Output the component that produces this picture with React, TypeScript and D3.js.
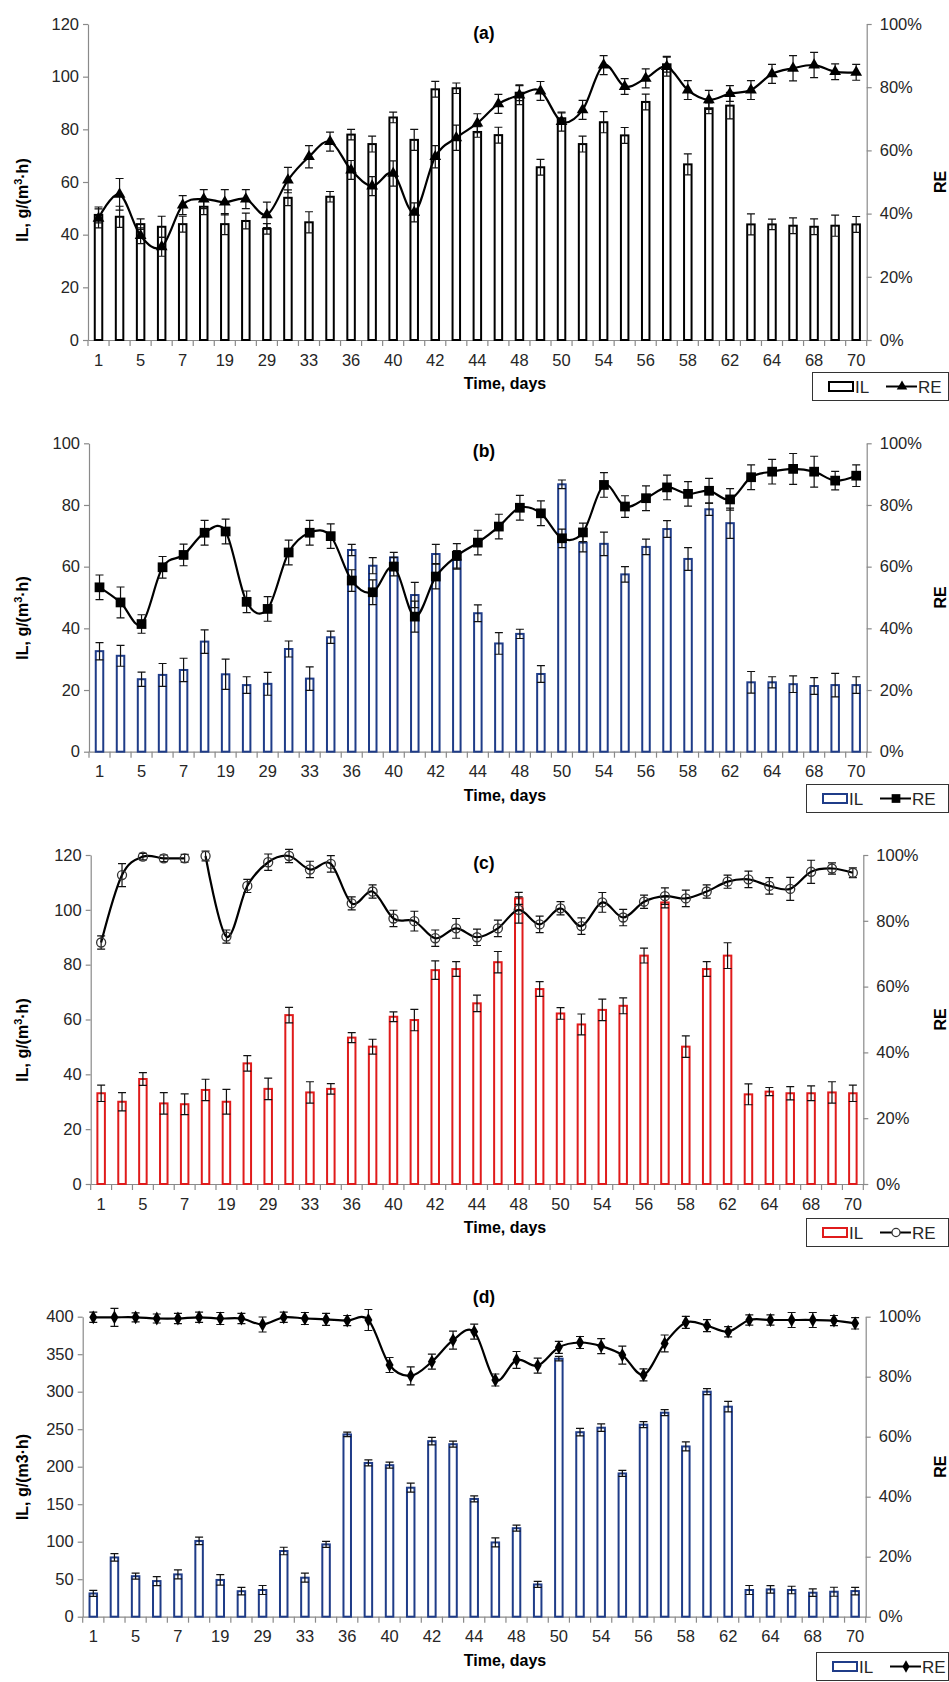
import React, { useRef, useEffect } from 'react';
import * as d3 from 'd3';

// category labels (only every other one is printed on the axis)
const days = ['1', '3', '5', '6', '7', '15', '19', '25', '29', '31', '33', '35', '36', '38', '40', '41', '42', '43', '44',
  '46', '48', '49', '50', '52', '54', '55', '56', '57', '58', '60', '62', '63', '64', '66', '68', '69', '70'];

// (a)
const ilA = [47.5, 46.8, 44, 43, 44, 50.6, 44, 45.2, 42.2, 54, 44.7, 54.4, 78, 74.4, 84.5, 76, 95.2, 95.6, 79, 77.8, 93.9, 65.6, 84.2, 74.4, 82.7, 77.7, 90.4, 104.7, 66.7, 88, 89, 43.9, 43.9, 43.4, 43, 43.4, 43.9];
const ilErrA = [3, 4, 2, 4, 3, 3, 4, 3, 2, 3, 4, 2, 2, 3, 2, 4, 3, 2, 2, 3, 3, 3, 2, 3, 4, 3, 3, 3, 4, 2, 5, 4, 2, 3, 3, 4, 3];
const reA = [38.5, 46.1, 33, 29.5, 42.7, 44.6, 43.6, 44.6, 39.6, 50.6, 58, 62.8, 53.8, 48.7, 52.7, 40.4, 58, 64, 68.6, 74.7, 77.5, 78.8, 69.1, 72.8, 87, 80.2, 82.8, 86.5, 79.1, 76, 78, 79.1, 84.2, 86, 87, 84.9, 84.7];
const reErrA = [3, 5, 2.5, 3, 3, 3, 4, 3, 4, 4, 3.5, 3, 3, 3, 4, 3, 3.5, 4, 3, 3, 3, 3, 3, 3, 3, 2.5, 3, 3, 3, 3, 2.5, 3, 3, 4, 4, 2.5, 2.5];

// (b)
const ilB = [32.6, 31.1, 23.5, 24.9, 26.5, 35.7, 25.1, 21.6, 22, 33.3, 23.7, 37.1, 65.4, 60.3, 63, 50.8, 64.1, 62.2, 44.9, 35.1, 38.2, 25.2, 86.7, 67.8, 67.4, 57.5, 66.4, 72.2, 62.5, 78.6, 74.1, 22.5, 22.5, 21.9, 21.3, 21.6, 21.6];
const ilErrB = [2.8, 3.4, 2.3, 3.7, 3.8, 3.8, 4.9, 2.7, 3.7, 2.6, 3.8, 2, 1.8, 2.6, 1.6, 4.1, 3.1, 3, 2.7, 3.5, 1.5, 2.7, 1.4, 3, 3.8, 2.5, 2.5, 2.7, 3.7, 2, 4.9, 3.5, 1.8, 2.7, 2.7, 3.8, 2.7];
const reB = [53.3, 48.4, 41.4, 59.8, 63.8, 71, 71.4, 48.6, 46.3, 64.6, 71, 69.9, 55.5, 51.7, 60, 43.8, 56.8, 63.5, 67.8, 73, 79.1, 77.3, 69.2, 71.1, 86.5, 79.5, 82.2, 85.7, 83.6, 84.6, 81.8, 89, 90.8, 91.7, 90.8, 87.9, 89.5];
const reErrB = [4, 5, 3, 3.5, 3.5, 4, 4, 3.5, 4, 4, 4, 4, 3.5, 4, 3, 5, 4, 4, 4, 4, 4, 4, 3, 3, 4, 3.5, 4, 4, 4, 4, 3.5, 4, 4, 5, 5, 3, 3.5];

// (c)
const ilC = [33.1, 30, 38.3, 29.4, 29.1, 34.3, 30, 44, 34.7, 61.6, 33.4, 34.7, 53.4, 50.1, 61, 59.8, 78, 78.4, 65.9, 80.9, 104.2, 71.1, 62.2, 58.2, 63.5, 65, 83.3, 102.7, 50.1, 78.4, 83.3, 32.7, 33.7, 33.1, 33.1, 33.4, 33.1];
const ilErrC = [3, 3.3, 2.3, 3.9, 3.8, 3.9, 4.5, 2.8, 3.9, 2.8, 3.9, 1.9, 1.8, 2.7, 1.8, 3.9, 3.4, 2.7, 3, 3.9, 2.2, 2.7, 2.1, 3.8, 3.9, 2.9, 2.7, 2, 3.9, 2.7, 4.7, 3.8, 1.5, 2.4, 2.7, 3.9, 3];
const reC = [73.4, 93.9, 99.5, 99, 99, 99.7, 75.2, 90.6, 97.8, 99.7, 95.6, 97.3, 85.3, 88.9, 80.7, 79.9, 74.7, 77.7, 75, 77.7, 83.3, 78.9, 83.8, 78.4, 85.6, 81, 85.8, 87.5, 86.8, 88.9, 91.9, 92.6, 90.6, 89.7, 94.9, 95.9, 94.6];
const reErrC = [2, 3.5, 1, 1, 1.2, 1.5, 2, 2, 2.5, 2, 2.5, 2.5, 2, 2, 2.5, 3, 2.5, 3, 2.5, 2.5, 4, 2.5, 2, 2.5, 3, 2.5, 2, 2.5, 2.5, 2, 2, 2.5, 2.5, 3.5, 3.5, 1.7, 1.5];

// (d)
const ilD = [31, 79, 54, 47.5, 56.4, 101, 49, 34, 35.6, 87.6, 52, 96.4, 243, 205, 202, 172, 234, 230, 157, 99, 118, 43, 344, 246, 252, 191, 256, 272, 227, 300, 280, 35.6, 36.4, 35.6, 32, 33.3, 34.2];
const ilErrD = [4, 5, 4, 6, 6, 5, 7, 5, 6, 5, 6, 4, 3, 4, 4, 6, 5, 4, 4, 6, 4, 4, 3, 5, 5, 4, 4, 4, 6, 4, 7, 6, 5, 5, 5, 6, 5];
const reD = [99.8, 99.8, 99.8, 99.4, 99.4, 99.8, 99.4, 99.4, 97.4, 99.8, 99.4, 99.1, 98.7, 98.9, 83.9, 80.3, 85, 92.2, 95, 78.9, 85.6, 83.7, 89.8, 91.4, 90.2, 87.2, 80.6, 91.1, 98.1, 97, 95, 98.9, 98.9, 98.9, 98.9, 98.7, 97.8];
const reErrD = [1.7, 3, 1.5, 1.5, 1.7, 1.7, 2, 1.7, 2.5, 1.7, 2, 2, 1.7, 3.5, 2.5, 3, 2.5, 3, 2.5, 2, 2.8, 2.5, 2, 2, 2.5, 3, 2, 2.8, 2, 2, 1.7, 1.7, 1.7, 2.5, 2.5, 1.7, 1.9];

const reTicks = [0, 20, 40, 60, 80, 100];

const FONT = "'Liberation Sans', Arial, sans-serif";
const AXIS = '#8a8a8a';
const TXT = '#262626';

const panels = [
  { name: '(a)', il: ilA, ilErr: ilErrA, re: reA, reErr: reErrA, ilMax: 120, ilStep: 20, bar: '#000000', marker: d3.symbolTriangle, msize: 60, hollow: false, sup: true, breakAt: -1,
    left: 88, right: 866.7, top: 24, bottom: 340, titleY: 33, yTitleY: 200, legX: 812, legY: 372 },
  { name: '(b)', il: ilB, ilErr: ilErrB, re: reB, reErr: reErrB, ilMax: 100, ilStep: 20, bar: '#1f3c88', marker: d3.symbolSquare, msize: 95, hollow: false, sup: true, breakAt: -1,
    left: 89, right: 866.7, top: 443.3, bottom: 751.7, titleY: 451, yTitleY: 618, legX: 806, legY: 784 },
  { name: '(c)', il: ilC, ilErr: ilErrC, re: reC, reErr: reErrC, ilMax: 120, ilStep: 20, bar: '#e01b1b', marker: d3.symbolCircle, msize: 64, hollow: true, sup: true, breakAt: 4,
    left: 90.7, right: 863.3, top: 855, bottom: 1184, titleY: 863, yTitleY: 1040, legX: 806, legY: 1218 },
  { name: '(d)', il: ilD, ilErr: ilErrD, re: reD, reErr: reErrD, ilMax: 400, ilStep: 50, bar: '#1f3c88', marker: d3.symbolDiamond, msize: 55, hollow: false, sup: false, breakAt: -1,
    left: 82.7, right: 865.7, top: 1316.7, bottom: 1616.7, titleY: 1297, yTitleY: 1477, legX: 816, legY: 1652 },
];

const App = () => {
  const svgRef = useRef<SVGSVGElement>(null);

  useEffect(() => {
    const svg = d3.select(svgRef.current);
    svg.selectAll('*').remove();
    svg.append('rect').attr('width', 949).attr('height', 1682).attr('fill', '#fff');

    panels.forEach(p => {
      const g = svg.append('g').attr('font-family', FONT);
      const x = d3.scaleBand().domain(days).range([p.left, p.right]).padding(0);
      const y = d3.scaleLinear().domain([0, p.ilMax]).range([p.bottom, p.top]);
      const yR = d3.scaleLinear().domain([0, 100]).range([p.bottom, p.top]);
      const cx = (d: string) => (x(d) as number) + x.bandwidth() / 2;

      // left axis
      const la = g.append('g').attr('transform', `translate(${p.left},0)`)
        .call(d3.axisLeft(y).tickValues(d3.range(0, p.ilMax + 1, p.ilStep)).tickSize(5).tickSizeOuter(0).tickPadding(4));
      // right axis
      const ra = g.append('g').attr('transform', `translate(${p.right},0)`)
        .call(d3.axisRight(yR).tickValues(reTicks).tickFormat(d => `${d}%`).tickSize(5).tickSizeOuter(0).tickPadding(8));
      // bottom axis, labels only on every other category
      const ba = g.append('g').attr('transform', `translate(0,${p.bottom})`)
        .call(d3.axisBottom(x).tickSize(0).tickSizeOuter(0).tickPadding(14)
          .tickFormat((d, i) => (i % 2 === 0 ? d : '')));
      [la, ra, ba].forEach(a => {
        a.select('.domain').attr('stroke', AXIS).attr('stroke-width', 1.2);
        a.selectAll('.tick line').attr('stroke', AXIS).attr('stroke-width', 1.2);
        a.selectAll('.tick text').attr('fill', TXT).attr('font-size', 16.5).attr('font-family', FONT);
      });
      // category boundary ticks
      const bounds = days.map(d => x(d) as number).concat([p.right]);
      ba.selectAll('line.bt').data(bounds).enter().append('line')
        .attr('x1', d => d).attr('x2', d => d).attr('y1', 0).attr('y2', 6)
        .attr('stroke', AXIS).attr('stroke-width', 1.2);

      // bars
      const bw = 7.5;
      g.selectAll('rect.bar').data(p.il).enter().append('rect')
        .attr('x', (_, i) => cx(days[i]) - bw / 2)
        .attr('width', bw)
        .attr('y', d => y(d))
        .attr('height', d => p.bottom - y(d))
        .attr('fill', '#fff')
        .attr('stroke', p.bar)
        .attr('stroke-width', 2);

      const errBars = (vals: number[], errs: number[], sc: d3.ScaleLinear<number, number>) => {
        const eg = g.append('g').attr('stroke', '#111').attr('stroke-width', 1.2).attr('fill', 'none');
        vals.forEach((v, i) => {
          const xc = cx(days[i]);
          const y0 = sc(v - errs[i]);
          const y1 = sc(v + errs[i]);
          eg.append('path').attr('d', `M${xc},${y0}V${y1}M${xc - 4},${y0}H${xc + 4}M${xc - 4},${y1}H${xc + 4}`);
        });
      };
      errBars(p.il, p.ilErr, y);

      // RE line
      const line = d3.line<number>()
        .x((_, i) => cx(days[i]))
        .y(d => yR(d))
        .curve(d3.curveCardinal.tension(0));
      const idx = d3.range(days.length);
      const segs = p.breakAt >= 0 ? [idx.slice(0, p.breakAt + 1), idx.slice(p.breakAt + 1)] : [idx];
      segs.forEach(s => {
        const lineS = d3.line<number>()
          .x(i => cx(days[i]))
          .y(i => yR(p.re[i]))
          .curve(d3.curveCardinal.tension(0));
        g.append('path').attr('d', lineS(s)).attr('fill', 'none').attr('stroke', '#000').attr('stroke-width', 2.2);
      });
      void line;
      errBars(p.re, p.reErr, yR);

      // markers
      const sym = d3.symbol().type(p.marker).size(p.msize);
      g.selectAll('path.mk').data(p.re).enter().append('path')
        .attr('d', sym())
        .attr('transform', (d, i) => `translate(${cx(days[i])},${yR(d)})`)
        .attr('fill', p.hollow ? 'none' : '#000')
        .attr('stroke', p.hollow ? '#333' : 'none')
        .attr('stroke-width', 1.3);

      // titles
      g.append('text').attr('x', 484).attr('y', p.titleY + 6).attr('text-anchor', 'middle')
        .attr('font-weight', 'bold').attr('font-size', 17.5).attr('fill', '#000').text(p.name);
      g.append('text').attr('x', 505).attr('y', p.bottom + 49).attr('text-anchor', 'middle')
        .attr('font-weight', 'bold').attr('font-size', 16).attr('fill', '#000').text('Time, days');
      const yt = g.append('text').attr('transform', `translate(28,${p.yTitleY}) rotate(-90)`)
        .attr('text-anchor', 'middle').attr('font-weight', 'bold').attr('font-size', 16).attr('fill', '#000');
      if (p.sup) {
        yt.append('tspan').text('IL, g/(m');
        yt.append('tspan').attr('dy', -6).attr('font-size', 11).text('3');
        yt.append('tspan').attr('dy', 6).text('·h)');
      } else {
        yt.text('IL, g/(m3·h)');
      }
      g.append('text').attr('transform', `translate(946,${(p.top + p.bottom) / 2}) rotate(-90)`)
        .attr('text-anchor', 'middle').attr('font-weight', 'bold').attr('font-size', 16).attr('fill', '#000').text('RE');

      // legend
      const lg = g.append('g').attr('transform', `translate(${p.legX},${p.legY})`);
      lg.append('rect').attr('x', 0.5).attr('y', 0.5).attr('width', 948 - p.legX).attr('height', 28)
        .attr('fill', '#fff').attr('stroke', '#333').attr('stroke-width', 1);
      lg.append('rect').attr('x', 17).attr('y', 10).attr('width', 24).attr('height', 9)
        .attr('fill', '#fff').attr('stroke', p.bar).attr('stroke-width', 2);
      lg.append('text').attr('x', 43).attr('y', 20.5).attr('font-size', 17).attr('fill', TXT).text('IL');
      lg.append('line').attr('x1', 74).attr('x2', 105).attr('y1', 14.5).attr('y2', 14.5)
        .attr('stroke', '#000').attr('stroke-width', 2);
      lg.append('path').attr('d', d3.symbol().type(p.marker).size(p.msize * 0.8)())
        .attr('transform', 'translate(90,14.5)')
        .attr('fill', p.hollow ? '#fff' : '#000')
        .attr('stroke', p.hollow ? '#333' : 'none').attr('stroke-width', 1.3);
      lg.append('text').attr('x', 106).attr('y', 20.5).attr('font-size', 17).attr('fill', TXT).text('RE');
    });
  }, []);

  return (
    <svg ref={svgRef} width={949} height={1682}
      style={{ position: 'absolute', left: 0, top: 0, display: 'block' }} />
  );
};

export default App;
